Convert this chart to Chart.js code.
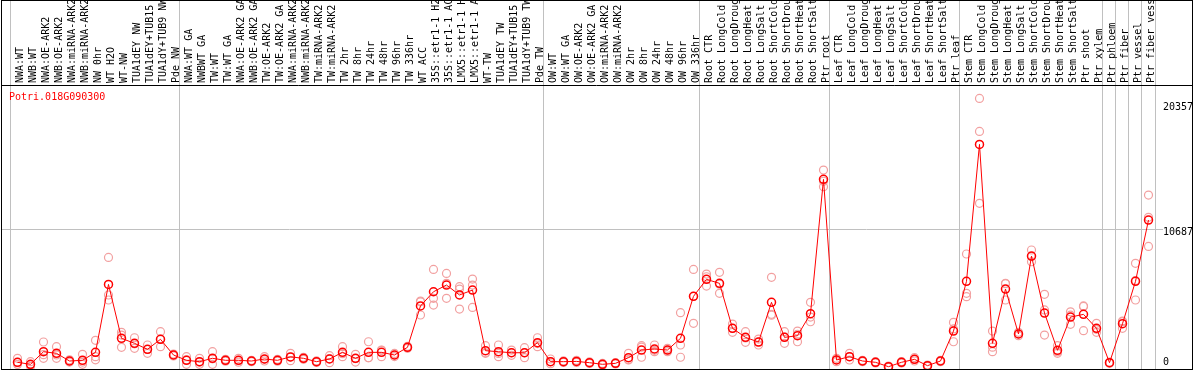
<!DOCTYPE html>
<html>
<head>
<meta charset="utf-8">
<script src="https://cdn.jsdelivr.net/npm/chart.js@4.4.1/dist/chart.umd.min.js"></script>
<style>
  html, body { margin: 0; padding: 0; background: #fff; overflow: hidden; }
  canvas { display: block; }
</style>
</head>
<body>
<canvas id="expr" width="1194" height="370"></canvas>
<script>
// --- Data ---
const geneId = 'Potri.018G090300';

const sampleLabels = [
  'NWA:WT', 'NWB:WT', 'NWA:OE-ARK2', 'NWB:OE-ARK2', 'NWA:miRNA-ARK2', 'NWB:miRNA-ARK2',
  'NW 0hr', 'WT H2O', 'WT-NW', 'TUA1dEY NW', 'TUA1dEY+TUB15', 'TUA1dY+TUB9 NW', 'Pde NW',
  'NWA:WT GA', 'NWBWT GA', 'TW:WT', 'TW:WT GA', 'NWA:OE-ARK2 GA', 'NWB:OE-ARK2 GA',
  'TW:OE-ARK2', 'TW:OE-ARK2 GA', 'NWA:miRNA-ARK2', 'NWB:miRNA-ARK2', 'TW:miRNA-ARK2',
  'TW:miRNA-ARK2', 'TW 2hr', 'TW 8hr', 'TW 24hr', 'TW 48hr', 'TW 96hr', 'TW 336hr',
  'WT ACC', '35S::etr1-1 H2', '35S::etr1-1 AC', 'LMX5::etr1-1 H', 'LMX5::etr1-1 A',
  'WT-TW', 'TUA1dEY TW', 'TUA1dEY+TUB15', 'TUA1dY+TUB9 TW', 'Pde TW',
  'OW:WT', 'OW:WT GA', 'OW:OE-ARK2', 'OW:OE-ARK2 GA', 'OW:miRNA-ARK2', 'OW:miRNA-ARK2',
  'OW 2hr', 'OW 8hr', 'OW 24hr', 'OW 48hr', 'OW 96hr', 'OW 336hr',
  'Root CTR', 'Root LongCold', 'Root LongDroug', 'Root LongHeat', 'Root LongSalt',
  'Root ShortCold', 'Root ShortDrou', 'Root ShortHeat', 'Root ShortSalt', 'Ptr root',
  'Leaf CTR', 'Leaf LongCold', 'Leaf LongDroug', 'Leaf LongHeat', 'Leaf LongSalt',
  'Leaf ShortCold', 'Leaf ShortDrou', 'Leaf ShortHeat', 'Leaf ShortSalt', 'Ptr leaf',
  'Stem CTR', 'Stem LongCold', 'Stem LongDroug', 'Stem LongHeat', 'Stem LongSalt',
  'Stem ShortCold', 'Stem ShortDrou', 'Stem ShortHeat', 'Stem ShortSalt', 'Ptr shoot',
  'Ptr xylem', 'Ptr phloem', 'Ptr fiber', 'Ptr vessel', 'Ptr fiber vess'
];

// sample index where a new group starts (gray separators)
const groupBreaks = [0, 13, 41, 53, 63, 73, 84, 85, 86, 87, 88];

const meanExpr = [
  410, 255, 1230, 1105, 510, 565, 1180, 6440, 2265, 1880, 1415, 2190, 975,
  565, 460, 720, 565, 565, 510, 665, 565, 830, 720, 460, 665, 1180, 720, 1180, 1180,
  975, 1570, 4770, 5870, 6390, 5620, 6000, 1310, 1230, 1150, 1150, 1930,
  460, 460, 480, 380, 255, 330, 770, 1360, 1440, 1360, 2265, 5515,
  6830, 6520, 3040, 2340, 1980, 5050, 2340, 2470, 4170, 14570,
  590, 845, 510, 410, 70, 410, 640, 150, 510, 2830,
  6680, 17275, 1880, 6080, 2600, 8630, 4220, 1340, 3910, 4120, 3040,
  380, 3400, 6680, 11420
];

const repA = [
  720, 460, 1980, 1620, 600, 1030, 2110, 8530, 2730, 2310, 1750, 2780, 1050,
  845, 720, 1230, 640, 720, 560, 845, 640, 1105, 800, 520, 920, 1620, 1030, 2000, 1360,
  1100, 1650, 5150, 7600, 7290, 6260, 6850, 1700, 1750, 1360, 1540, 2310,
  665, 520, 560, 440, 320, 380, 1105, 1700, 1750, 1490, 4250, 7600,
  7240, 7370, 3370, 2780, 2210, 6990, 2780, 2830, 5050, 15290,
  720, 1105, 560, 460, 120, 470, 770, 200, 560, 3500,
  8790, 20830, 2830, 6520, 2730, 9100, 5670, 1700, 4320, 4770, 3430,
  420, 3600, 8070, 13350
];

const repB = [
  400, 200, 1000, 980, 500, 430, 845, 5620, 2520, 1840, 1400, 2200, 975,
  600, 420, 680, 565, 560, 510, 640, 565, 820, 720, 460, 690, 1080, 700, 770, 1340,
  975, 1570, 5090, 5360, 6520, 6080, 6390, 1150, 1100, 1150, 1150, 1860,
  460, 460, 480, 380, 255, 330, 620, 1580, 1340, 1360, 1750, 5515,
  7030, 6450, 3040, 2300, 1980, 4120, 2360, 2580, 3910, 14420,
  590, 840, 510, 410, 70, 410, 640, 150, 510, 2990,
  5750, 18280, 1580, 6490, 2600, 8600, 4460, 1220, 4060, 4730, 2960,
  380, 3550, 6740, 11630
];

const repC = [
  250, 100, 720, 720, 430, 255, 600, 5230, 1570, 1490, 1105, 1620, 900,
  255, 255, 255, 490, 420, 460, 510, 490, 540, 640, 400, 380, 845, 430, 770, 845,
  850, 1490, 4070, 4840, 5360, 4530, 4660, 1105, 845, 950, 770, 1620,
  300, 400, 400, 320, 190, 280, 590, 800, 1230, 1230, 800, 3430,
  6310, 5750, 2730, 1960, 1750, 4050, 1880, 2000, 3550, 14000,
  460, 590, 460, 360, 20, 350, 510, 100, 460, 2000,
  5490, 12710, 1230, 5230, 2470, 8190, 2520, 1105, 3350, 2860, 2730,
  340, 3040, 5230, 9380
];

const yTickValues = [0, 10687, 20357];

// --- Chart ---
const MONO = '"DejaVu Sans Mono", "Liberation Mono", monospace';
const GRID = '#c0c0c0';
const NONE = 'rgba(0,0,0,0)';

const meanPoints = meanExpr.map((v, i) => ({ x: i, y: v }));
const repPoints = [];
[repA, repB, repC].forEach(arr => arr.forEach((v, i) => repPoints.push({ x: i, y: v })));

// frame, header rule and gene name
const framePlugin = {
  id: 'frame',
  afterDraw(chart) {
    const { ctx, chartArea, width, height } = chart;
    ctx.save();
    ctx.strokeStyle = '#000';
    ctx.lineWidth = 1;
    ctx.strokeRect(1.5, 0.5, width - 3, height - 1);
    ctx.beginPath();
    ctx.moveTo(1, chartArea.top + 0.5);
    ctx.lineTo(width - 2, chartArea.top + 0.5);
    ctx.stroke();
    ctx.fillStyle = '#ff0000';
    ctx.font = '10px ' + MONO;
    ctx.textBaseline = 'top';
    ctx.fillText(geneId, chartArea.left + 8, chartArea.top + 7);
    ctx.restore();
  }
};

new Chart(document.getElementById('expr').getContext('2d'), {
  type: 'line',
  data: {
    datasets: [
      {
        data: meanPoints,
        borderColor: '#ff0000',
        borderWidth: 1,
        tension: 0,
        pointRadius: 4,
        pointBorderWidth: 1.5,
        pointBorderColor: '#ff0000',
        pointBackgroundColor: NONE,
        order: 0
      },
      {
        data: repPoints,
        showLine: false,
        pointRadius: 4,
        pointBorderWidth: 1.2,
        pointBorderColor: '#f2a0a0',
        pointBackgroundColor: NONE,
        order: 1
      }
    ]
  },
  options: {
    responsive: false,
    animation: false,
    devicePixelRatio: 1,
    layout: { autoPadding: false, padding: { left: 1, right: 2, top: 0, bottom: 1 } },
    plugins: { legend: { display: false }, tooltip: { enabled: false } },
    scales: {
      x: {
        type: 'linear',
        position: 'top',
        bounds: 'data',
        min: -1.2692,
        max: 87.5,
        afterBuildTicks: s => {
          s.ticks = sampleLabels.concat(['']).map((_, i) => ({ value: i - 0.5 }));
        },
        afterFit: s => {
          s.height = 85;
          s.paddingLeft = 0;
          s.paddingRight = 0;
        },
        border: { display: false },
        grid: {
          color: c => groupBreaks.includes(c.index) ? GRID : NONE,
          lineWidth: 1,
          tickLength: 85
        },
        ticks: {
          autoSkip: false,
          minRotation: 90,
          maxRotation: 90,
          padding: -83,
          labelOffset: 21,
          color: '#000',
          font: { family: MONO, size: 10 },
          callback: (v, i) => sampleLabels[i] ?? ''
        }
      },
      y: {
        type: 'linear',
        position: 'right',
        bounds: 'data',
        min: -108,
        max: 21870,
        afterBuildTicks: s => { s.ticks = yTickValues.map(v => ({ value: v })); },
        afterFit: s => {
          s.width = 37;
          s.paddingTop = 0;
          s.paddingBottom = 0;
        },
        border: { display: false },
        grid: {
          color: c => (c.tick && c.tick.value === 10687) ? GRID : NONE,
          tickLength: 8
        },
        ticks: {
          padding: 0,
          labelOffset: 2.5,
          color: '#000',
          font: { family: MONO, size: 10, lineHeight: 1.6 },
          callback: v => v === 0 ? ['0', ''] : String(v)
        }
      }
    }
  },
  plugins: [framePlugin]
});
</script>
</body>
</html>
